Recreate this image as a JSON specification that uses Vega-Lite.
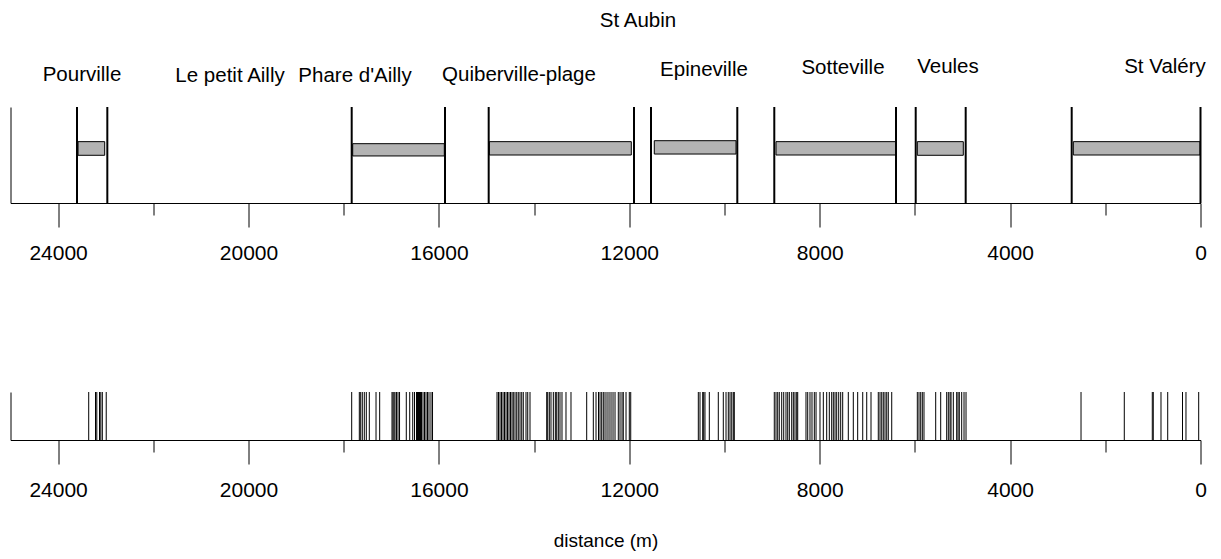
{
  "$schema": "https://vega.github.io/schema/vega-lite/v6.json",
  "autosize": {"type": "none"},
  "padding": {"left": 10.5, "top": 107, "right": 1210.5, "bottom": 452},
  "background": "white",
  "bounds": "flush",
  "spacing": 189,
  "datasets": {
    "places": [
      {"d": 23498, "yv": 1.27, "label": "Pourville"},
      {"d": 20388, "yv": 1.262, "label": "Le petit Ailly"},
      {"d": 17762, "yv": 1.262, "label": "Phare d'Ailly"},
      {"d": 14317, "yv": 1.27, "label": "Quiberville-plage"},
      {"d": 11817, "yv": 1.835, "label": "St Aubin"},
      {"d": 10431, "yv": 1.325, "label": "Epineville"},
      {"d": 7511, "yv": 1.345, "label": "Sotteville"},
      {"d": 5305, "yv": 1.355, "label": "Veules"},
      {"d": 746, "yv": 1.355, "label": "St Valéry"}
    ],
    "zones": [
      {"start": 23581, "end": 23021, "lo": 0.497, "hi": 0.639},
      {"start": 17811, "end": 15886, "lo": 0.49, "hi": 0.618},
      {"start": 14941, "end": 11958, "lo": 0.5, "hi": 0.639},
      {"start": 11475, "end": 9758, "lo": 0.51, "hi": 0.649},
      {"start": 8918, "end": 6403, "lo": 0.5, "hi": 0.639},
      {"start": 5949, "end": 4983, "lo": 0.497, "hi": 0.639},
      {"start": 2672, "end": 10, "lo": 0.5, "hi": 0.639}
    ],
    "bounds": [
      {"d": 23603}, {"d": 22966}, {"d": 17832}, {"d": 15872}, {"d": 14954},
      {"d": 11901}, {"d": 11544}, {"d": 9731}, {"d": 8954}, {"d": 6397},
      {"d": 5983}, {"d": 4933}, {"d": 2706}, {"d": 0}
    ],
    "events": [
      {"d": 23357}, {"d": 23214}, {"d": 23187}, {"d": 23130}, {"d": 23103}, {"d": 23071}, {"d": 22989},
      {"d": 17832}, {"d": 17672}, {"d": 17643}, {"d": 17609}, {"d": 17567}, {"d": 17525}, {"d": 17462},
      {"d": 17321}, {"d": 17244}, {"d": 16985}, {"d": 16964}, {"d": 16943}, {"d": 16922}, {"d": 16890},
      {"d": 16859}, {"d": 16827}, {"d": 16685}, {"d": 16613}, {"d": 16550}, {"d": 16512}, {"d": 16470},
      {"d": 16449}, {"d": 16428}, {"d": 16407}, {"d": 16386}, {"d": 16365}, {"d": 16334}, {"d": 16302},
      {"d": 16271}, {"d": 16239}, {"d": 16208}, {"d": 16166}, {"d": 16134},
      {"d": 14779}, {"d": 14748}, {"d": 14716}, {"d": 14685}, {"d": 14653}, {"d": 14622}, {"d": 14590},
      {"d": 14559}, {"d": 14527}, {"d": 14496}, {"d": 14464}, {"d": 14437}, {"d": 14401}, {"d": 14365},
      {"d": 14332}, {"d": 14296}, {"d": 14260}, {"d": 14227}, {"d": 14170}, {"d": 14134}, {"d": 14086},
      {"d": 13735}, {"d": 13714}, {"d": 13680}, {"d": 13645}, {"d": 13596}, {"d": 13554}, {"d": 13525},
      {"d": 13491}, {"d": 13456}, {"d": 13414}, {"d": 13330}, {"d": 13225},
      {"d": 12895}, {"d": 12756}, {"d": 12699}, {"d": 12647}, {"d": 12615}, {"d": 12580}, {"d": 12546},
      {"d": 12510}, {"d": 12468}, {"d": 12426}, {"d": 12384}, {"d": 12342}, {"d": 12300}, {"d": 12231},
      {"d": 12195}, {"d": 12153}, {"d": 12126}, {"d": 12069}, {"d": 12000}, {"d": 11970},
      {"d": 10550}, {"d": 10515}, {"d": 10458}, {"d": 10437}, {"d": 10410}, {"d": 10319}, {"d": 10130},
      {"d": 10025}, {"d": 9968}, {"d": 9920}, {"d": 9884}, {"d": 9848}, {"d": 9815}, {"d": 9794},
      {"d": 8954}, {"d": 8918}, {"d": 8882}, {"d": 8849}, {"d": 8798}, {"d": 8756}, {"d": 8708},
      {"d": 8672}, {"d": 8638}, {"d": 8588}, {"d": 8554}, {"d": 8519}, {"d": 8483}, {"d": 8462},
      {"d": 8288}, {"d": 8252}, {"d": 8204}, {"d": 8162}, {"d": 8113}, {"d": 8077}, {"d": 7994},
      {"d": 7924}, {"d": 7853}, {"d": 7798}, {"d": 7748}, {"d": 7714}, {"d": 7678}, {"d": 7643},
      {"d": 7601}, {"d": 7559}, {"d": 7517}, {"d": 7399}, {"d": 7294}, {"d": 7202}, {"d": 7096},
      {"d": 7012}, {"d": 6922}, {"d": 6769}, {"d": 6733}, {"d": 6697}, {"d": 6664}, {"d": 6628},
      {"d": 6592}, {"d": 6559}, {"d": 6487},
      {"d": 5949}, {"d": 5914}, {"d": 5878}, {"d": 5844}, {"d": 5809}, {"d": 5563}, {"d": 5458},
      {"d": 5332}, {"d": 5298}, {"d": 5262}, {"d": 5241}, {"d": 5193}, {"d": 5122}, {"d": 5094},
      {"d": 5067}, {"d": 5017}, {"d": 4968}, {"d": 4926},
      {"d": 2510}, {"d": 1601}, {"d": 1013}, {"d": 992}, {"d": 830}, {"d": 689}, {"d": 378}, {"d": 305}, {"d": 38}
    ]
  },
  "vconcat": [
    {
      "width": 1190,
      "height": 96,
      "layer": [
        {
          "data": {"name": "zones"},
          "mark": {"type": "rect", "fill": "#b3b3b3", "stroke": "black", "strokeWidth": 1},
          "encoding": {
            "x": {"field": "start", "type": "quantitative"},
            "x2": {"field": "end"},
            "y": {"field": "lo", "type": "quantitative"},
            "y2": {"field": "hi"}
          }
        },
        {
          "data": {"name": "bounds"},
          "mark": {"type": "rule", "color": "black", "strokeWidth": 2},
          "encoding": {
            "x": {"field": "d", "type": "quantitative"},
            "y": {"datum": 0, "type": "quantitative"},
            "y2": {"datum": 1}
          }
        },
        {
          "data": {"name": "places"},
          "mark": {"type": "text", "baseline": "alphabetic", "align": "center", "font": "Liberation Sans, Arial", "fontSize": 20.5, "color": "black"},
          "encoding": {
            "x": {"field": "d", "type": "quantitative"},
            "y": {"field": "yv", "type": "quantitative"},
            "text": {"field": "label"}
          }
        }
      ],
      "encoding": {
        "x": {
          "type": "quantitative",
          "scale": {"domain": [0, 25000], "reverse": true, "nice": false, "zero": false},
          "axis": {
            "title": null,
            "values": [0, 2000, 4000, 6000, 8000, 10000, 12000, 14000, 16000, 18000, 20000, 22000, 24000],
            "format": "d",
            "labelExpr": "datum.value % 4000 === 0 ? datum.label : ''",
            "tickSize": {"condition": {"test": "datum.value % 4000 === 0", "value": 24}, "value": 12},
            "labelPadding": 15
          }
        },
        "y": {
          "type": "quantitative",
          "scale": {"domain": [0, 1], "nice": false, "zero": false},
          "axis": {"title": null, "ticks": false, "labels": false, "grid": false}
        }
      }
    },
    {
      "width": 1190,
      "height": 48,
      "data": {"name": "events"},
      "mark": {"type": "rule", "color": "black", "strokeWidth": 1},
      "encoding": {
        "x": {
          "field": "d",
          "type": "quantitative",
          "title": "distance (m)",
          "scale": {"domain": [0, 25000], "reverse": true, "nice": false, "zero": false},
          "axis": {
            "values": [0, 2000, 4000, 6000, 8000, 10000, 12000, 14000, 16000, 18000, 20000, 22000, 24000],
            "format": "d",
            "labelExpr": "datum.value % 4000 === 0 ? datum.label : ''",
            "tickSize": {"condition": {"test": "datum.value % 4000 === 0", "value": 24}, "value": 12},
            "labelPadding": 15,
            "titlePadding": 31
          }
        },
        "y": {
          "datum": 0,
          "type": "quantitative",
          "scale": {"domain": [0, 1], "nice": false, "zero": false},
          "axis": {"title": null, "ticks": false, "labels": false, "grid": false}
        },
        "y2": {"datum": 1}
      }
    }
  ],
  "config": {
    "view": {"stroke": null},
    "axis": {
      "domainColor": "black",
      "tickColor": "black",
      "labelColor": "black",
      "titleColor": "black",
      "grid": false,
      "labelFont": "Liberation Sans, Arial",
      "labelFontSize": 21,
      "labelFlush": false,
      "labelOverlap": false,
      "titleFont": "Liberation Sans, Arial",
      "titleFontSize": 19,
      "titleFontWeight": "normal",
      "domainWidth": 1,
      "tickWidth": 1
    }
  }
}
